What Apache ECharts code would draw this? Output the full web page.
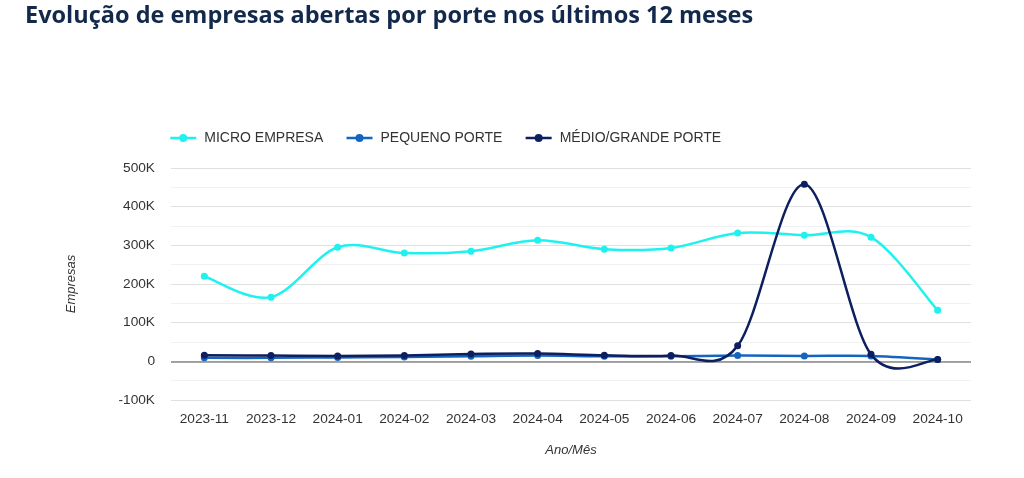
<!DOCTYPE html>
<html><head><meta charset="utf-8">
<script src="https://cdn.jsdelivr.net/npm/echarts@6/dist/echarts.min.js"></script>
<style>html,body{margin:0;padding:0;background:#fff;}#c{width:1024px;height:478px;}</style>
</head><body><div id="c"></div>
<script>
const categories = ['2023-11','2023-12','2024-01','2024-02','2024-03','2024-04','2024-05','2024-06','2024-07','2024-08','2024-09','2024-10'];
const microEmpresa = [220000,166000,295000,280000,285000,313000,290000,293000,332000,326000,321000,132000];
const pequenoPorte = [9000,9000,10000,11000,13000,15000,13000,13000,15000,14000,14000,5000];
const medioGrandePorte = [16000,15000,14000,15000,19000,20000,16000,15000,40000,458000,18000,5000];
const yTicks = {min:-100000, max:500000, interval:100000};

const names = ['MICRO EMPRESA','PEQUENO PORTE','MÉDIO/GRANDE PORTE'];
const colors = ['#1ff2ee','#1565c0','#0d1f5e'];
const datasets = [microEmpresa, pequenoPorte, medioGrandePorte];

const chart = echarts.init(document.getElementById('c'));

// Catmull-Rom curve segments drawn through the axis scales (api.coord)
function curveSeries(name, data, color, z){
  return {
    name, type:'custom', data: data.map((v,i)=>[i,v]), z, silent:true,
    encode:{x:0, y:1},
    renderItem(params, api){
      const i = params.dataIndex;
      if (i >= data.length - 1) return null;
      const c = k => Math.max(0, Math.min(data.length-1, k));
      const p = k => api.coord([c(k), data[c(k)]]);
      const p0 = p(i-1), p1 = p(i), p2 = p(i+1), p3 = p(i+2);
      const t = 1/6;
      return {
        type:'bezierCurve',
        shape:{x1:p1[0], y1:p1[1], x2:p2[0], y2:p2[1],
          cpx1:p1[0] + (p2[0]-p0[0])*t, cpy1:p1[1] + (p2[1]-p0[1])*t,
          cpx2:p2[0] - (p3[0]-p1[0])*t, cpy2:p2[1] - (p3[1]-p1[1])*t},
        style:{stroke:color, lineWidth:2.5, fill:null}
      };
    }
  };
}
function pointSeries(name, data, color, z){
  return {name, type:'line', data, symbol:'circle', symbolSize:7, showSymbol:true,
    lineStyle:{color, opacity:0, width:2.5}, itemStyle:{color}, z};
}
const series = [];
datasets.forEach((d,k)=>{
  series.push(pointSeries(names[k], d, colors[k], 3 + k*2 + 1));
  series.push(curveSeries(names[k], d, colors[k], 3 + k*2));
});
series.push({type:'line', data:[], markLine:{silent:true, symbol:'none', label:{show:false},
  lineStyle:{color:'#888', width:1.5, type:'solid'}, data:[{yAxis:0}]}, z:1});

chart.setOption({
  animation:false,
  title:{text:'Evolução de empresas abertas por porte nos últimos 12 meses', left:20, top:-1,
    textStyle:{fontFamily:'Open Sans', fontWeight:'bold', fontSize:23.5, color:'#13294b'}},
  legend:{left:164, top:126, itemWidth:26, itemHeight:10, itemGap:22,
    textStyle:{fontFamily:'Liberation Sans', fontSize:14, color:'#333', padding:[0,0,0,3]},
    data: names.map((n,k)=>({name:n, itemStyle:{color:colors[k]},
      lineStyle:{color:colors[k], width:2.5, opacity:1}}))},
  grid:{left:171, right:53, top:168, bottom:78},
  xAxis:{type:'category', data:categories, boundaryGap:true,
    name:'Ano/Mês', nameLocation:'middle', nameGap:44,
    nameTextStyle:{fontFamily:'Liberation Sans', fontStyle:'italic', fontSize:13, color:'#333'},
    axisLine:{show:false}, axisTick:{show:false},
    axisLabel:{fontFamily:'Liberation Sans', fontSize:13.7, color:'#333', margin:12}},
  yAxis:{type:'value', min:yTicks.min, max:yTicks.max, interval:yTicks.interval,
    name:'Empresas', nameLocation:'middle', nameGap:93,
    nameTextStyle:{fontFamily:'Liberation Sans', fontStyle:'italic', fontSize:13, color:'#333'},
    axisLine:{show:false}, axisTick:{show:false},
    axisLabel:{fontFamily:'Liberation Sans', fontSize:13.7, color:'#333', margin:16,
      formatter:v=> v===0 ? '0' : (v/1000)+'K'},
    splitLine:{lineStyle:{color:'#e0e0e0', width:1}},
    minorTick:{show:false, splitNumber:2},
    minorSplitLine:{show:true, lineStyle:{color:'#f2f2f2', width:1}}},
  series
});
</script></body></html>
